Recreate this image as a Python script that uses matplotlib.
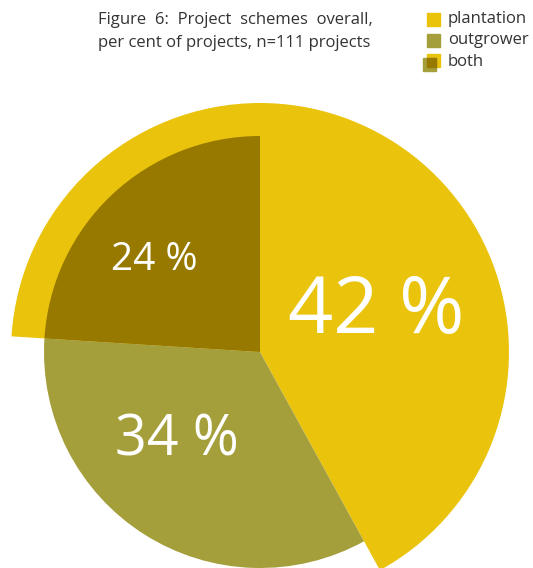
import matplotlib.pyplot as plt
from matplotlib.patches import Rectangle

# Project schemes, per cent of projects (n=111)
schemes = ['plantation', 'outgrower', 'both']
shares = [42, 34, 24]
labels = ['42 %', '34 %', '24 %']

yellow = '#EAC30C'
olive = '#A59F3B'
dark = '#977900'

W, H = 533, 568
fig = plt.figure(figsize=(W / 100, H / 100), dpi=100)
ax = fig.add_axes([0, 0, 1, 1])

center = (260, H - 352)

# outer yellow disc (plantation + the ring behind "both")
ax.pie(shares, radius=249, center=center, startangle=90, counterclock=False,
       colors=[yellow, 'none', yellow], frame=True)
# inner slices
ax.pie(shares, radius=216, center=center, startangle=90, counterclock=False,
       colors=['none', olive, dark], frame=True)

ax.set_xlim(0, W)
ax.set_ylim(0, H)
ax.set_aspect('equal')
ax.axis('off')

font = 'Open Sans'
label_pos = [(376, H - 313), (177, H - 441), (154, H - 260)]
label_size = [57, 40, 28]
for lab, (x, y), s in zip(labels, label_pos, label_size):
    ax.text(x, y, lab, color='white', fontsize=s, family=font, ha='center', va='center')

# title
ax.text(98, H - 20, 'Figure  6:  Project  schemes  overall,', fontsize=12, family=font,
        color='#333333', ha='left', va='center')
ax.text(98, H - 43, 'per cent of projects, n=111 projects', fontsize=12, family=font,
        color='#333333', ha='left', va='center')

# legend
leg_y = [H - 19, H - 40, H - 62]
sq = 13
ax.add_patch(Rectangle((427, leg_y[0] - sq / 2), sq, sq, color=yellow))
ax.add_patch(Rectangle((427, leg_y[1] - sq / 2), sq, sq, color=olive))
ax.add_patch(Rectangle((427, H - 67), sq, sq, color=yellow))
ax.add_patch(Rectangle((423, H - 71), sq, sq, color=olive))
ax.add_patch(Rectangle((427, H - 67), 9, 9, color=dark))
for name, y in zip(schemes, leg_y):
    ax.text(448, y, name, fontsize=12, family=font, color='#333333', ha='left', va='center')

fig.savefig('out.png', dpi=100)
